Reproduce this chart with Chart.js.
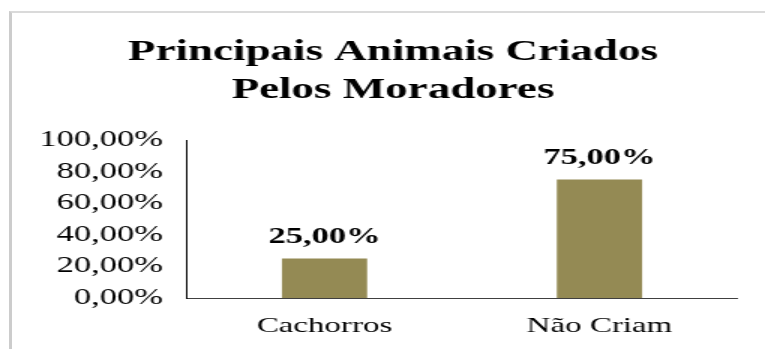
<!DOCTYPE html>
<html>
<head>
<meta charset="utf-8">
<script src="https://cdn.jsdelivr.net/npm/chart.js@4.4.1/dist/chart.umd.min.js"></script>
<style>
  html, body { margin: 0; padding: 0; background: #fff; overflow: hidden; width: 765px; height: 349px; }
  #frame {
    position: absolute; left: 9px; top: 11px; right: -10px; bottom: -10px;
    border-left: 3px solid #cccccc; border-top: 2px solid #dadada;
  }
  /* the chart is laid out narrow and stretched sideways */
  #wrap {
    position: absolute; left: 0; top: 0; width: 524px; height: 349px;
    transform: scaleX(1.5); transform-origin: 0 0;
  }
</style>
</head>
<body>
<div id="frame"></div>
<div id="wrap"><canvas id="chart"></canvas></div>
<script>
// Data
const categories = ["Cachorros", "Não Criam"];
const percentages = [25, 75];
const yTicks = [0, 20, 40, 60, 80, 100];

const serif = "'Liberation Serif', 'Times New Roman', serif";

function fmtPct(v) {
  return v.toFixed(2).replace(".", ",") + "%";
}

// value labels above each bar
const barLabels = {
  id: "barLabels",
  afterDatasetsDraw(chart) {
    const ctx = chart.ctx;
    const meta = chart.getDatasetMeta(0);
    ctx.save();
    ctx.font = "bold 23px " + serif;
    ctx.fillStyle = "#000";
    ctx.textAlign = "center";
    ctx.textBaseline = "alphabetic";
    meta.data.forEach((bar, i) => {
      ctx.fillText(fmtPct(percentages[i]), bar.x, bar.y - 16);
    });
    ctx.restore();
  }
};

const ctx = document.getElementById("chart").getContext("2d");
new Chart(ctx, {
  type: "bar",
  data: {
    labels: categories,
    datasets: [{
      data: percentages,
      backgroundColor: "#948A54",
      borderWidth: 0,
      barPercentage: 0.31,
      categoryPercentage: 1
    }]
  },
  options: {
    responsive: true,
    maintainAspectRatio: false,
    animation: false,
    layout: { padding: 0 },
    plugins: {
      legend: { display: false },
      tooltip: { enabled: false },
      title: {
        display: true,
        text: ["Principais Animais Criados", "Pelos Moradores"],
        color: "#000",
        font: { family: serif, size: 30, weight: "bold", lineHeight: 38 / 30 },
        padding: { top: 33, bottom: 31 }
      }
    },
    scales: {
      x: {
        grid: { display: false },
        border: { display: true, color: "#404040", width: 1 },
        ticks: { color: "#000", font: { family: serif, size: 22 }, padding: 7 },
        afterFit(axis) { axis.height = 51; }
      },
      y: {
        min: 0,
        max: 100,
        grid: { display: false, drawTicks: false },
        border: { display: true, color: "#000", width: 1 },
        afterBuildTicks(axis) { axis.ticks = yTicks.map((v) => ({ value: v })); },
        ticks: {
          color: "#000",
          font: { family: serif, size: 23 },
          padding: 16,
          callback: (v) => fmtPct(v)
        },
        afterFit(axis) { axis.width = 124.7; }
      },
      // empty strip on the right so the title stays centred on the full width
      gap: {
        position: "right",
        grid: { display: false, drawTicks: false },
        border: { display: false },
        ticks: { display: false },
        afterFit(axis) { axis.width = 32.7; }
      }
    }
  },
  plugins: [barLabels]
});
</script>
</body>
</html>
